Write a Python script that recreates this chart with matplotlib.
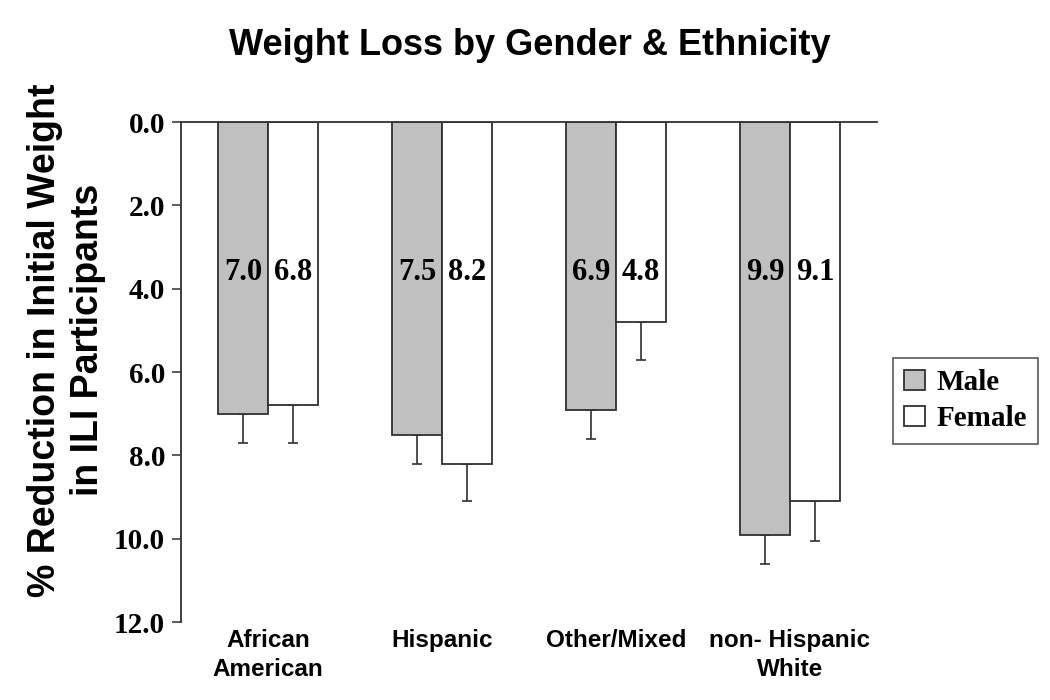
import numpy as np
import matplotlib
matplotlib.use("Agg")
import matplotlib.pyplot as plt

# values
groups = ["African\nAmerican", "Hispanic", "Other/Mixed", "non- Hispanic\nWhite"]
male = [7.0, 7.5, 6.9, 9.9]
female = [6.8, 8.2, 4.8, 9.1]
male_err = [0.7, 0.7, 0.7, 0.7]
female_err = [0.9, 0.9, 0.9, 0.95]
yticks = [0.0, 2.0, 4.0, 6.0, 8.0, 10.0, 12.0]

SANS = ["Liberation Sans", "DejaVu Sans"]
SERIF = ["Liberation Serif", "DejaVu Serif"]

fig = plt.figure(figsize=(10.5, 7), dpi=100)
ax = fig.add_axes([0.1724, 0.1114, 0.6628, 0.7143])

x = np.arange(len(groups))
w = 0.287
edge = "#303030"

b1 = ax.bar(x - w / 2, male, w, color="#c0c0c0", edgecolor=edge, linewidth=1.3, label="Male", zorder=2)
b2 = ax.bar(x + w / 2, female, w, color="white", edgecolor=edge, linewidth=1.3, label="Female", zorder=2)

ax.errorbar(x - w / 2, male, yerr=[np.zeros(len(male)), male_err], fmt="none",
            ecolor=edge, elinewidth=1.2, capsize=3.6, capthick=1.2, zorder=1)
ax.errorbar(x + w / 2, female, yerr=[np.zeros(len(female)), female_err], fmt="none",
            ecolor=edge, elinewidth=1.2, capsize=3.6, capthick=1.2, zorder=1)

for xi, v in zip(x - w / 2, male):
    ax.text(xi, 3.62, f"{v:.1f}", ha="center", va="center", fontsize=22,
            fontweight="bold", family=SERIF, zorder=3)
for xi, v in zip(x + w / 2, female):
    ax.text(xi, 3.62, f"{v:.1f}", ha="center", va="center", fontsize=22,
            fontweight="bold", family=SERIF, zorder=3)

ax.set_xlim(-0.5, 3.5)
ax.set_ylim(12, 0)
ax.set_yticks(yticks)
ax.set_yticklabels([f"{t:.1f}" for t in yticks], fontsize=21, fontweight="bold", family=SERIF)
ax.set_xticks(x)
ax.set_xticklabels(groups, fontsize=17.5, fontweight="bold", family=SANS, linespacing=1.35)
ax.tick_params(axis="x", length=0, pad=5)
ax.tick_params(axis="y", length=6.5, width=1.1, color=edge, pad=5)

for s in ["right", "bottom"]:
    ax.spines[s].set_visible(False)
for s in ["left", "top"]:
    ax.spines[s].set_color(edge)
    ax.spines[s].set_linewidth(1.3)

fig.text(0.505, 0.935, "Weight Loss by Gender & Ethnicity", ha="center", va="center",
         fontsize=26, fontweight="bold", family=SANS)
fig.text(0.063, 0.514, "% Reduction in Initial Weight\nin ILI Participants", rotation=90,
         ha="center", va="center", multialignment="center", fontsize=27,
         fontweight="bold", family=SANS, linespacing=1.25)

leg = fig.legend(handles=[b1, b2], loc="upper left", bbox_to_anchor=(0.85, 0.489),
                 bbox_transform=fig.transFigure, frameon=True, fancybox=False,
                 borderaxespad=0, handlelength=0.7, handleheight=0.7, handletextpad=0.4,
                 prop={"family": SERIF, "weight": "bold", "size": 21},
                 borderpad=0.4, labelspacing=0.3)
leg.get_frame().set_edgecolor(edge)
leg.get_frame().set_linewidth(1.2)

fig.savefig("out.png", dpi=100)
